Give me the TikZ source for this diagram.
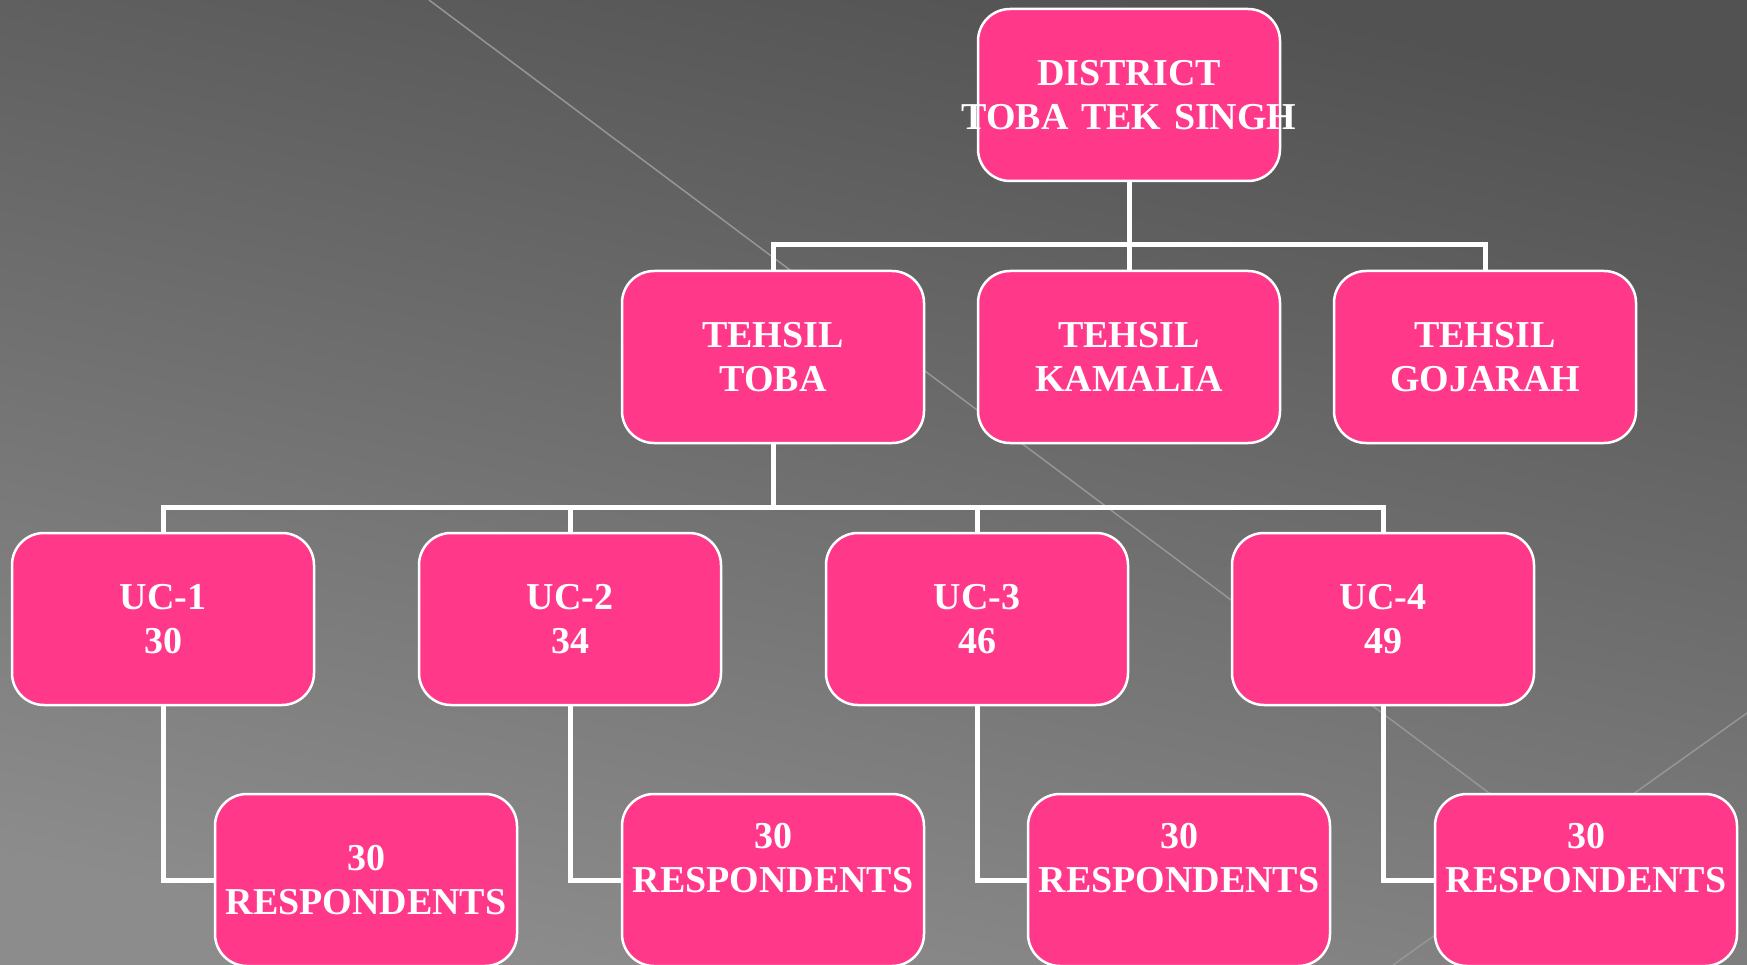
\documentclass[tikz,border=0pt]{standalone}
\usepackage{fontspec}
\setmainfont{Liberation Serif}
\usepackage{tikz}
\definecolor{rosa}{RGB}{255,56,138}
\definecolor{fondoA}{RGB}{82,82,82}
\definecolor{fondoB}{RGB}{140,140,140}
\definecolor{raya}{RGB}{150,150,150}
\newcommand{\ancho}[1]{\makebox[\hsize]{#1}}

\begin{document}
\begin{tikzpicture}[
        x=1pt, y=-1pt, % Unidades en puntos, eje y hacia abajo
        caja/.style={draw=white, line width=2.5pt, fill=rosa,
        rounded corners=32pt, text=white,
        font=\fontsize{38}{44}\selectfont\bfseries,
        text width=290pt, align=center, inner xsep=6pt, inner ysep=0pt,
        minimum height=172pt}, % Estilo para las cajas
        conector/.style={draw=white, line width=5pt}, % Estilo para las lineas
    ]
        % --- Fondo ---
        \useasboundingbox (0,0) rectangle (1747,965);
        \shade[top color=fondoA, bottom color=fondoB, shading angle=-12] (0,0) rectangle (1747,965);
        \draw[raya, line width=1.5pt] (429,0) -- (1719,965);
        \draw[raya, line width=1.5pt] (1747,713) -- (1393,965);

        % --- Distrito y tehsils ---
        \node[caja] (distrito) at (1129,95) {DISTRICT\\\ancho{TOBA TEK SINGH}};
        \node[caja] (toba) at (773,357) {TEHSIL\\TOBA};
        \node[caja] (kamalia) at (1129,357) {TEHSIL\\KAMALIA};
        \node[caja] (gojarah) at (1485,357) {TEHSIL\\GOJARAH};

        % --- Union councils ---
        \node[caja] (uc1) at (163,619) {UC-1\\30};
        \node[caja] (uc2) at (570,619) {UC-2\\34};
        \node[caja] (uc3) at (977,619) {UC-3\\46};
        \node[caja] (uc4) at (1383,619) {UC-4\\49};

        % --- Encuestados (linea vacia al final para subir el texto) ---
        \node[caja] (enc1) at (366,880) {30\\\ancho{RESPONDENTS}};
        \node[caja] (enc2) at (773,880) {30\\\ancho{RESPONDENTS}\\\mbox{}};
        \node[caja] (enc3) at (1179,880) {30\\\ancho{RESPONDENTS}\\\mbox{}};
        \node[caja] (enc4) at (1586,880) {30\\\ancho{RESPONDENTS}\\\mbox{}};

        % --- Conectores ---
        \coordinate (bus1) at (1129,245);
        \draw[conector] (distrito.south) -- (bus1);
        \draw[conector] (toba.north) |- (bus1) -| (gojarah.north);
        \draw[conector] (kamalia.north) -- (bus1);

        \coordinate (bus2) at (773,507);
        \draw[conector] (toba.south) -- (bus2);
        \draw[conector] (uc1.north) |- (bus2) -| (uc4.north);
        \draw[conector] (uc2.north) -- (uc2.north |- bus2);
        \draw[conector] (uc3.north) -- (uc3.north |- bus2);

        \draw[conector] (uc1.south) |- (enc1.west);
        \draw[conector] (uc2.south) |- (enc2.west);
        \draw[conector] (uc3.south) |- (enc3.west);
        \draw[conector] (uc4.south) |- (enc4.west);

    \end{tikzpicture}
\end{document}
